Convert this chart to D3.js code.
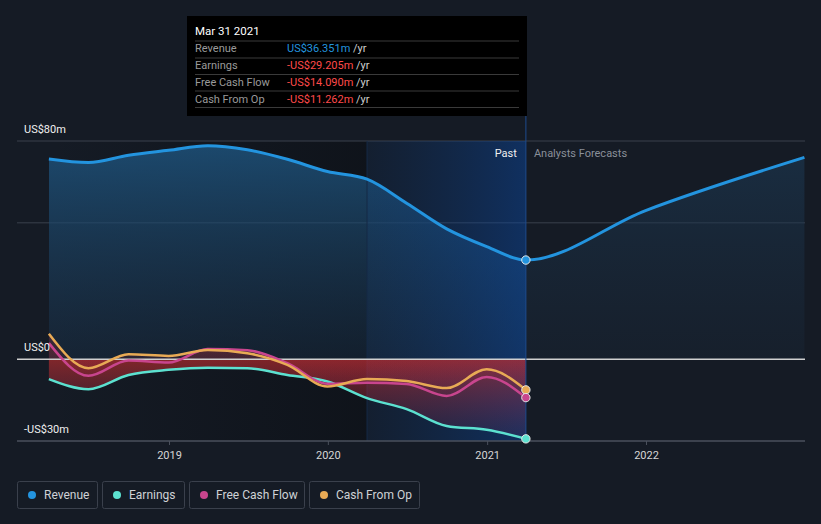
<!DOCTYPE html>
<html><head><meta charset="utf-8">
<script src="https://cdn.jsdelivr.net/npm/d3@7"></script>
<style>
html,body{margin:0;padding:0;background:#151b25;}
svg{display:block;font-family:Roboto,"Open Sans",sans-serif;}
</style></head><body>
<svg id="c" width="821" height="524"></svg>
<script>
// ---- data ----
const pastDates = ["2018-03-31","2018-06-30","2018-09-30","2018-12-31","2019-03-31","2019-06-30","2019-09-30","2019-12-31","2020-03-31","2020-06-30","2020-09-30","2020-12-31","2021-03-31"];
const revenuePast = [73.4,72.1,74.8,76.6,78.3,76.8,73.3,68.8,66.0,57.2,47.8,41.3,36.351];
const earnings    = [-7.3,-11.0,-5.8,-3.9,-3.1,-3.3,-5.8,-8.2,-14.3,-18.3,-24.5,-25.9,-29.205];
const freeCashFlow= [5.9,-6.1,-0.5,-1.2,3.7,3.3,-1.5,-9.0,-8.6,-9.1,-13.5,-6.5,-14.09];
const cashFromOp  = [9.3,-3.3,1.8,1.2,3.4,2.2,-2.1,-10.0,-7.3,-8.0,-10.6,-3.7,-11.262];
const forecastDates = ["2021-12-31","2022-12-31"];
const revenueForecast = [54.5,74.0];
const yTicks = [80,0,-30];
const yTickLabels = ["US$80m","US$0","-US$30m"];
const gridValues = [80,50];
const xTickYears = [2019,2020,2021,2022];
const legendNames = ["Revenue","Earnings","Free Cash Flow","Cash From Op"];
const tooltipTitle = "Mar 31 2021";
const tooltipValues = ["US$36.351m","-US$29.205m","-US$14.090m","-US$11.262m"];

const colors = {rev:"#2394df", earn:"#5ce1d0", fcf:"#c8458e", cfo:"#e8aa55"};
const legendColors = [colors.rev, colors.earn, colors.fcf, colors.cfo];

const parse = d3.timeParse("%Y-%m-%d");
const svg = d3.select("#c");

const x = d3.scaleTime().domain([new Date(2019,0,1), new Date(2022,0,1)]).range([169,646]);
const y = d3.scaleLinear().domain([-30,80]).range([441,141]);
const L = 17, R = 805;

const past = pastDates.map((d,i)=>({d:parse(d), rev:revenuePast[i], earn:earnings[i], fcf:freeCashFlow[i], cfo:cashFromOp[i]}));
const revAll = past.map(p=>({d:p.d, v:p.rev})).concat(forecastDates.map((d,i)=>({d:parse(d), v:revenueForecast[i]})));

const xStart = x(past[0].d), xNow = x(past[past.length-1].d), xYearAgo = x(parse("2020-03-31"));
const xEnd = x(revAll[revAll.length-1].d);

const defs = svg.append("defs");
function lg(id, x1,y1,x2,y2, stops){
  const g = defs.append("linearGradient").attr("id",id).attr("x1",x1).attr("y1",y1).attr("x2",x2).attr("y2",y2);
  stops.forEach(s=>g.append("stop").attr("offset",s[0]).attr("stop-color",s[1]).attr("stop-opacity",s[2]));
}
lg("darkPast","0","0","1","0",[[0,"#0a0d12",0],[1,"#0a0d12",0.55]]);
lg("hl","0","0","1","0",[[0,"#0a3c80",0.12],[1,"#0a4aa8",0.45]]);
lg("revPast","0","0","0","1",[[0,"#1e5580",0.8],[1,"#1a3550",0.35]]);
lg("revFc","0","0","0","1",[[0,"#1d3d5a",0.55],[1,"#1a2a3c",0.3]]);
lg("neg","0","0","0","1",[[0,"#c82e2e",0.6],[1,"#8a2a50",0.12]]);
lg("negL","0","0","0","1",[[0,"#c82e2e",0.22],[1,"#8a2a50",0.05]]);

defs.append("clipPath").attr("id","cpPast").append("rect").attr("x",xStart).attr("y",0).attr("width",xNow-xStart).attr("height",524);
defs.append("clipPath").attr("id","cpFc").append("rect").attr("x",xNow).attr("y",0).attr("width",xEnd-xNow+1).attr("height",524);

// dark past background
svg.append("rect").attr("x",xStart).attr("y",y(80)).attr("width",xYearAgo-xStart).attr("height",y(-30)-y(80)).attr("fill","url(#darkPast)");

// grid lines
svg.selectAll(".grid").data(gridValues).join("line")
  .attr("x1",L).attr("x2",R).attr("y1",d=>y(d)).attr("y2",d=>y(d))
  .attr("stroke","#3a404c").attr("stroke-width",1);

const curve = d3.curveMonotoneX;
// revenue area
const revArea = d3.area().x(d=>x(d.d)).y0(y(0)).y1(d=>y(d.v)).curve(curve);
svg.append("path").datum(revAll).attr("d",revArea).attr("fill","url(#revPast)").attr("clip-path","url(#cpPast)");
svg.append("path").datum(revAll).attr("d",revArea).attr("fill","url(#revFc)").attr("clip-path","url(#cpFc)");

// highlight last year
svg.append("rect").attr("x",xYearAgo).attr("y",y(80)).attr("width",xNow-xYearAgo).attr("height",y(-30)-y(80)).attr("fill","url(#hl)");
svg.append("line").attr("x1",xYearAgo).attr("x2",xYearAgo).attr("y1",y(80)).attr("y2",y(-30)).attr("stroke","#162a46").attr("stroke-width",1);

// negative areas
function areaOf(key){ return d3.area().x(d=>x(d.d)).y0(y(0)).y1(d=>y(d[key])).curve(curve); }
svg.append("path").datum(past).attr("d",areaOf("earn")).attr("fill","url(#neg)");
svg.append("path").datum(past).attr("d",areaOf("fcf")).attr("fill","url(#negL)");
svg.append("path").datum(past).attr("d",areaOf("cfo")).attr("fill","url(#negL)");

// zero line
svg.append("line").attr("x1",L).attr("x2",R).attr("y1",y(0)).attr("y2",y(0)).attr("stroke","#d0d0d0").attr("stroke-width",1.5);

// x axis
const xAxis = d3.axisBottom(x).tickValues(xTickYears.map(yv=>new Date(yv,0,1))).tickFormat(d3.timeFormat("%Y")).tickSize(4).tickPadding(6);
const gx = svg.append("g").attr("transform",`translate(0,${y(-30)})`).call(xAxis);
gx.select(".domain").remove();
gx.selectAll(".tick line").attr("stroke","#4a505c");
gx.selectAll(".tick text").attr("fill","#d6d6d6").attr("font-size",11).attr("font-family","Roboto");
svg.append("line").attr("x1",L).attr("x2",R).attr("y1",y(-30)).attr("y2",y(-30)).attr("stroke","#4a505c").attr("stroke-width",1.5);

// now line
svg.append("line").attr("x1",xNow).attr("x2",xNow).attr("y1",115).attr("y2",y(-30)).attr("stroke","#1e4a8c").attr("stroke-width",1);

// lines
function lineOf(key){ return d3.line().x(d=>x(d.d)).y(d=>y(d[key])).curve(curve); }
svg.append("path").datum(past).attr("d",lineOf("earn")).attr("fill","none").attr("stroke",colors.earn).attr("stroke-width",2.5);
svg.append("path").datum(past).attr("d",lineOf("fcf")).attr("fill","none").attr("stroke",colors.fcf).attr("stroke-width",2.5);
svg.append("path").datum(past).attr("d",lineOf("cfo")).attr("fill","none").attr("stroke",colors.cfo).attr("stroke-width",2.5);
svg.append("path").datum(revAll).attr("d",d3.line().x(d=>x(d.d)).y(d=>y(d.v)).curve(curve)).attr("fill","none").attr("stroke",colors.rev).attr("stroke-width",3);

// end dots
const last = past[past.length-1];
[["cfo",colors.cfo],["fcf",colors.fcf],["earn",colors.earn],["rev",colors.rev]].forEach(([k,c])=>{
  svg.append("circle").attr("cx",x(last.d)).attr("cy",y(last[k])).attr("r",4.2).attr("fill",c).attr("stroke","#e6e6e6").attr("stroke-width",1);
});

// y labels
svg.selectAll(".ylab").data(yTicks).join("text")
  .attr("x",24).attr("y",d=>y(d)-8).attr("fill","#f0f0f0").attr("font-size",11).text((d,i)=>yTickLabels[i]);

// Past / forecasts labels
svg.append("text").attr("x",xNow-9).attr("y",157).attr("text-anchor","end").attr("fill","#f0f0f0").attr("font-size",11).text("Past");
svg.append("text").attr("x",xNow+8).attr("y",157).attr("fill","#8a8f99").attr("font-size",11).text("Analysts Forecasts");

// tooltip
const tt = svg.append("g");
tt.append("rect").attr("x",187).attr("y",16).attr("width",340).attr("height",100).attr("fill","#000");
tt.append("text").attr("x",195).attr("y",35).attr("fill","#ffffff").attr("font-size",11.5).text(tooltipTitle);
const rowY = [52,69,86,103];
[41,58,74.5,91,107.5].forEach(ly=>tt.append("line").attr("x1",195).attr("x2",519).attr("y1",ly).attr("y2",ly).attr("stroke","#3a3a3a").attr("stroke-width",1));
legendNames.forEach((n,i)=>{
  tt.append("text").attr("x",195).attr("y",rowY[i]).attr("fill","#9a9a9a").attr("font-size",11).text(n);
  const t = tt.append("text").attr("x",287).attr("y",rowY[i]).attr("font-size",11);
  t.append("tspan").attr("fill",i===0?"#2394df":"#ff4a4a").text(tooltipValues[i]);
  t.append("tspan").attr("fill","#cfcfcf").text(" /yr");
});

// legend
const legendX = [17,102,189,309];
const legendW = [80,82,115,110];
legendNames.forEach((n,i)=>{
  const g = svg.append("g").attr("transform",`translate(${legendX[i]},481)`);
  g.append("rect").attr("x",0.5).attr("y",0.5).attr("width",legendW[i]).attr("height",27).attr("rx",2).attr("fill","none").attr("stroke","#3a404c");
  g.append("circle").attr("cx",15).attr("cy",14).attr("r",4).attr("fill",legendColors[i]);
  g.append("text").attr("x",27).attr("y",18).attr("fill","#cfd2d6").attr("font-size",12).text(n);
});
</script>
</body></html>
